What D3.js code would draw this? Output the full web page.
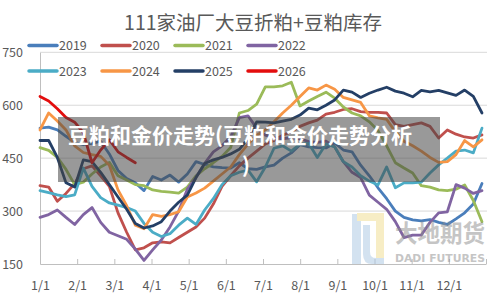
<!DOCTYPE html>
<html>
<head>
<meta charset="utf-8">
<script src="https://cdn.jsdelivr.net/npm/d3@7"></script>
<style>
  body { margin: 0; background: #fff; }
  svg { display: block; font-family: "Noto Sans CJK SC", "Noto Sans", sans-serif; }
</style>
</head>
<body>
<script>
var w = 500;
var h = 300;

// chart data (weekly values)
var months = ["1/1", "2/1", "3/1", "4/1", "5/1", "6/1", "7/1", "8/1", "9/1", "10/1", "11/1", "12/1"];
var yTicks = [150, 300, 450, 600, 750];
var years = ["2019", "2020", "2021", "2022", "2023", "2024", "2025", "2026"];
var colors = ["#4a7ebb", "#c0504d", "#9bbb59", "#8064a2", "#4bacc6", "#f79646", "#243f66", "#e30d0d"];

var s2019 = [535, 538, 530, 512, 495, 488, 492, 498, 462, 415, 392, 380, 358, 398, 388, 402, 382, 405, 440, 432, 425, 423, 422, 437, 420, 418, 425, 430, 450, 465, 488, 482, 480, 479, 493, 473, 468, 430, 400, 366, 335, 300, 282, 275, 272, 276, 268, 262, 278, 295, 320, 378];
var s2020 = [372, 368, 328, 350, 378, 420, 428, 400, 370, 295, 240, 190, 196, 210, 213, 210, 225, 240, 255, 280, 320, 370, 400, 428, 450, 470, 490, 500, 515, 525, 540, 550, 558, 575, 580, 588, 590, 582, 580, 580, 578, 545, 540, 545, 550, 540, 507, 530, 518, 510, 507, 516];
var s2021 = [480, 472, 452, 418, 375, 382, 405, 425, 438, 400, 388, 375, 372, 360, 356, 354, 351, 368, 400, 420, 437, 455, 480, 578, 585, 603, 652, 652, 655, 665, 598, 612, 625, 637, 620, 595, 578, 570, 553, 528, 485, 437, 422, 408, 372, 368, 360, 358, 362, 374, 330, 270];
var s2022 = [282, 290, 303, 282, 262, 290, 310, 268, 240, 230, 220, 192, 160, 190, 218, 255, 300, 362, 395, 435, 468, 485, 510, 565, 570, 535, 515, 508, 505, 508, 505, 497, 495, 498, 482, 440, 410, 395, 345, 325, 305, 270, 225, 232, 232, 268, 295, 298, 375, 365, 350, 358];
var s2023 = [358, 352, 346, 341, 346, 422, 370, 338, 323, 317, 310, 300, 265, 240, 228, 236, 260, 280, 262, 303, 335, 375, 400, 410, 416, 383, 425, 478, 485, 470, 490, 492, 452, 490, 482, 440, 425, 400, 385, 374, 425, 366, 380, 380, 382, 408, 431, 450, 470, 473, 465, 535];
var s2024 = [530, 578, 555, 530, 485, 466, 460, 455, 430, 360, 315, 260, 250, 290, 285, 290, 298, 340, 351, 365, 385, 405, 425, 460, 490, 515, 530, 553, 578, 600, 625, 649, 643, 657, 645, 622, 615, 608, 570, 564, 560, 525, 498, 485, 470, 452, 438, 440, 460, 500, 482, 502];
var s2025 = [500, 500, 452, 380, 368, 445, 440, 410, 375, 340, 305, 265, 252, 258, 270, 300, 325, 345, 395, 435, 445, 452, 462, 475, 505, 553, 552, 550, 555, 560, 572, 592, 587, 600, 615, 643, 637, 622, 634, 643, 651, 640, 634, 624, 642, 638, 642, 635, 628, 643, 625, 578];
var s2026 = [625, 612, 590, 565, 552, 522, 437, 473, 502, 468, 452, 437];

var seriesValues = [s2019, s2020, s2021, s2022, s2023, s2024, s2025, s2026];

var svg = d3.select("body").append("svg").attr("width", w).attr("height", h);

var xScale = d3.scaleLinear().domain([0, 12]).range([40, 486]);   // months, for the axis
var xWeek = d3.scaleLinear().domain([0, 51]).range([40, 482]);    // weekly points
var yScale = d3.scaleLinear().domain([150, 750]).range([264, 52.3]);

// title
svg.append("text")
    .attr("x", 253).attr("y", 30)
    .attr("text-anchor", "middle")
    .style("font-size", "19.5px")
    .style("fill", "#595959")
    .text("111家油厂大豆折粕+豆粕库存");

// grid lines
svg.selectAll("line.grid").data(yTicks.slice(1)).enter().append("line")
    .attr("class", "grid")
    .attr("x1", 40).attr("x2", 487)
    .attr("y1", function (d) { return yScale(d); })
    .attr("y2", function (d) { return yScale(d); })
    .style("stroke", "#d9d9d9").style("stroke-width", 1);

// axes
var yAxis = svg.append("g").attr("transform", "translate(40,0)")
    .call(d3.axisLeft(yScale).tickValues(yTicks).tickSize(0).tickPadding(17));
var xAxis = svg.append("g").attr("transform", "translate(0,264)")
    .call(d3.axisBottom(xScale).tickValues(d3.range(13)).tickSize(-5).tickSizeOuter(0).tickPadding(17)
        .tickFormat(function (d) { return months[d] || ""; }));

[yAxis, xAxis].forEach(function (g) {
    g.select(".domain").style("stroke", "#bfbfbf");
    g.selectAll(".tick line").style("stroke", "#bfbfbf");
    g.selectAll("text").style("fill", "#595959").style("font-size", "12.5px")
        .style("font-family", "\"Noto Sans CJK SC\", sans-serif");
});

// legend
var legend = svg.selectAll("g.leg").data(years).enter().append("g")
    .attr("class", "leg")
    .attr("transform", function (d, i) { return "translate(" + (29 + (i % 4) * 73) + "," + (45.5 + Math.floor(i / 4) * 25.5) + ")"; });
legend.append("line")
    .attr("x1", 0).attr("x2", 28).attr("y1", 0).attr("y2", 0)
    .style("stroke", function (d, i) { return colors[i]; })
    .style("stroke-width", 3.5)
    .style("stroke-linecap", "round");
legend.append("text")
    .attr("x", 30).attr("y", 4.5)
    .style("font-size", "12.5px")
    .style("fill", "#595959")
    .text(function (d) { return d; });

// series lines
var line = d3.line()
    .x(function (d, i) { return xWeek(i); })
    .y(function (d) { return yScale(d); });

svg.selectAll("path.series").data(seriesValues).enter().append("path")
    .attr("class", "series")
    .attr("d", line)
    .style("fill", "none")
    .style("stroke", function (d, i) { return colors[i]; })
    .style("stroke-width", 2.8)
    .style("stroke-linejoin", "round")
    .style("stroke-linecap", "round");

// watermark
var wm = svg.append("g").style("opacity", 0.5);
wm.append("path").attr("d", "M352,214 L361,214 L361,264 L352,264 Z").style("fill", "#a9c6e3");
wm.append("path").attr("d", "M357,213 L384,213 L384,258 L376,258 L376,221 L357,221 Z").style("fill", "#f0dc8c");
wm.append("path").attr("d", "M363,225 L370,225 L370,252 Q370,258 376,258 L384,258 L384,264 L372,264 Q363,264 363,254 Z").style("fill", "#a9c6e3");
wm.append("text")
    .attr("x", 395).attr("y", 242)
    .attr("textLength", 90).attr("lengthAdjust", "spacingAndGlyphs")
    .style("font-size", "24px").style("font-weight", "bold")
    .style("fill", "#8c8c8c")
    .text("大地期货");
wm.append("text")
    .attr("x", 395).attr("y", 262)
    .attr("textLength", 90).attr("lengthAdjust", "spacingAndGlyphs")
    .style("font-size", "11px").style("font-weight", "bold")
    .style("font-family", "\"DejaVu Sans\", sans-serif")
    .style("fill", "#8c8c8c")
    .text("DADI FUTURES");

// overlay caption box
svg.append("rect")
    .attr("x", 58).attr("y", 117).attr("width", 382).attr("height", 65)
    .style("fill", "rgba(70,70,70,0.55)");
svg.append("text")
    .attr("x", 240).attr("y", 143)
    .attr("text-anchor", "middle")
    .style("font-size", "21px").style("font-weight", "bold")
    .style("fill", "#fff")
    .text("豆粕和金价走势(豆粕和金价走势分析");
svg.append("text")
    .attr("x", 246).attr("y", 173)
    .attr("text-anchor", "middle")
    .style("font-size", "21px").style("font-weight", "bold")
    .style("fill", "#fff")
    .text(")");
</script>
</body>
</html>
